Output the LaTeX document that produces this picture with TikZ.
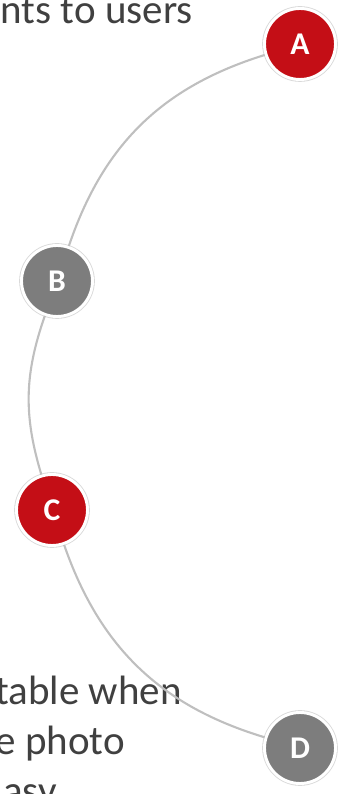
\documentclass[tikz,border=0pt]{standalone}
\usepackage{fontspec}
\setmainfont{Carlito}
\usepackage{tikz}
\usetikzlibrary{positioning}
\definecolor{markred}{RGB}{196,14,22}
\definecolor{markgray}{RGB}{125,125,125}
\definecolor{slidetext}{RGB}{64,64,64}
\begin{document}
\begin{tikzpicture}[
  dotmark/.style={circle,draw=white,line width=2.5pt,minimum size=2.13cm,inner sep=0pt,
    preaction={draw=gray!30,line width=4pt},
    font=\fontsize{27}{30}\selectfont\bfseries,text=white},
  redmark/.style={dotmark,fill=markred},
  graymark/.style={dotmark,fill=markgray},
  link/.style={gray!50,line width=1.8pt},
  slide/.style={font=\fontsize{35}{40}\selectfont,text=slidetext,anchor=base east,inner sep=0pt}]
\useasboundingbox (0,0) rectangle (10.14,23.82);
\clip (0,0) rectangle (10.14,23.82);

\node[slide] (T1) at (5.79, 23.10) {nts to users};
\node[slide] (T2) at (5.46, 2.67) {table when};
\node[slide] (T3) at (3.75, 1.17) {e photo};
\node[slide] (T4) at (1.71, -0.33) {asy};

\node[redmark] (A) at (9.00, 22.50) {A};
\node[graymark] (B) at (1.71, 15.39) {B};
\node[redmark] (C) at (1.56, 8.52) {C};
\node[graymark] (D) at (9.00, 1.38) {D};

\draw[link] (A) to[bend right=27] (B);
\draw[link] (B) to[bend right=18] (C);
\draw[link] (C) to[bend right=27] (D);

\end{tikzpicture}
\end{document}
